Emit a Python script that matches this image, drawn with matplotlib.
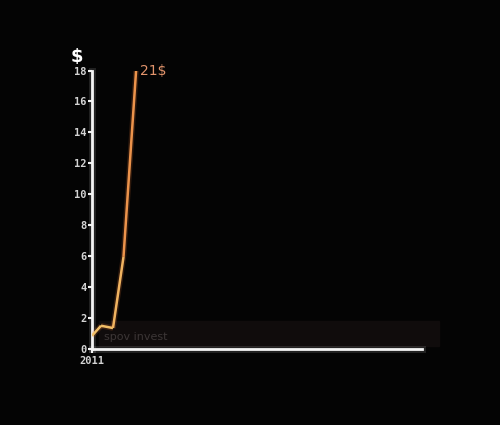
import matplotlib
matplotlib.use("Agg")
import matplotlib.pyplot as plt
import numpy as np
from matplotlib.collections import LineCollection
import matplotlib.patheffects as pe
from matplotlib.colors import LinearSegmentedColormap

# Data
years = [2011.0, 2011.3, 2011.7, 2012.05, 2012.47]
price = [0.85, 1.5, 1.35, 5.95, 18.0]
yticks = [0, 2, 4, 6, 8, 10, 12, 14, 16, 18]
xtick_years = [2011]
xtick_labels = ["2011"]
end_label = "21$"
y_unit = "$"
watermark = "spov invest"

fig = plt.figure(figsize=(5, 4.25), dpi=100, facecolor="#040404")
ax = fig.add_axes([0.184, 0.179, 0.66, 0.655])
ax.set_facecolor("none")

ax.set_xlim(2011, 2022)
ax.set_ylim(0, 18)

# faint lighter band near the bottom (background)
ax.add_patch(plt.Rectangle((0.02, 0.01), 1.03, 0.09, transform=ax.transAxes,
                           color="#100c0c", zorder=0, clip_on=False))

# line with gradient colour
x = np.array(years)
y = np.array(price)
pts = np.column_stack([x, y]).reshape(-1, 1, 2)
segs = np.concatenate([pts[:-1], pts[1:]], axis=1)
cmap = LinearSegmentedColormap.from_list("o", ["#f2c46a", "#ee9a52", "#e8853e"])
lc = LineCollection(segs, cmap=cmap, linewidth=1.8, zorder=3,
                    path_effects=[pe.Stroke(linewidth=4, foreground="#e07030", alpha=0.2), pe.Normal()])
lc.set_array((y[:-1] + y[1:]) / 2)
lc.set_clim(0, 18)
ax.add_collection(lc)

ax.text(x[-1] + 0.12, y[-1], end_label, color="#e2946c", fontsize=10,
        ha="left", va="center", family="DejaVu Sans")

# spines
for s in ["top", "right"]:
    ax.spines[s].set_visible(False)
for s in ["left", "bottom"]:
    ax.spines[s].set_color("#f4f4f4")
    ax.spines[s].set_linewidth(2)
    ax.spines[s].set_path_effects([pe.Stroke(linewidth=5, foreground="white", alpha=0.12), pe.Normal()])

ax.set_yticks(yticks)
ax.set_yticklabels([str(t) for t in yticks])
ax.set_xticks(xtick_years)
ax.set_xticklabels(xtick_labels)
ax.tick_params(axis="y", colors="#f0f0f0", length=3, width=1.5, pad=1, labelsize=7.5,
               labelcolor="#d4d4d4")
ax.tick_params(axis="x", colors="#f0f0f0", length=3, width=1.5, pad=2, labelsize=7.5,
               labelcolor="#d4d4d4")
for lbl in ax.get_yticklabels() + ax.get_xticklabels():
    lbl.set_family("DejaVu Sans Mono")
    lbl.set_fontweight("bold")

fig.text(77 / 500, 1 - 57 / 425, y_unit, color="white", fontsize=13, fontweight="bold",
         ha="center", va="center")
fig.text(104 / 500, 1 - 337 / 425, watermark, color="#3c3636", fontsize=8,
         ha="left", va="center")

fig.savefig("out.png", dpi=100, facecolor=fig.get_facecolor())
